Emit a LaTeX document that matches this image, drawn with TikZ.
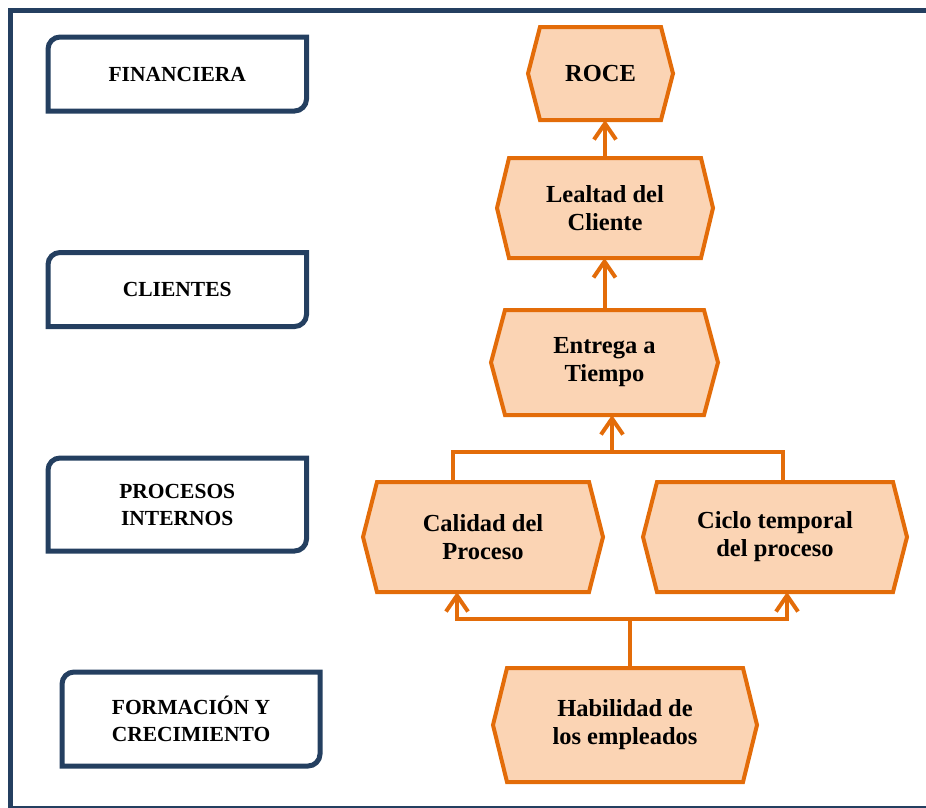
\documentclass[tikz,border=0pt]{standalone}
\usepackage{fontspec}
\setmainfont{Liberation Serif}
\usetikzlibrary{arrows.meta,backgrounds,calc}
\definecolor{naranja}{HTML}{E36C09}
\definecolor{melocoton}{HTML}{FBD4B4}
\definecolor{marino}{HTML}{243F60}

\begin{document}
\begin{tikzpicture}[x=1pt,y=-1pt,
    perspectiva/.style={minimum width=258.5pt, minimum height=74pt, inner sep=0pt, outer sep=0pt,
      align=center, font=\fontsize{21.5}{27}\selectfont\bfseries},
    objetivo/.style={inner sep=0pt, outer sep=0pt, align=center,
      font=\fontsize{24.5}{28}\selectfont\bfseries},
    conector/.style={draw=naranja, line width=4pt},
    flecha/.style={conector, -{Straight Barb[length=16pt,width=22pt]}}]
  \useasboundingbox (0,0) rectangle (926,807);
  \draw[marino, line width=5pt] (10.5,10.5) rectangle (931,808.5);

  \node[perspectiva] (fin) at (177.25,74) {FINANCIERA};
  \node[perspectiva] (cli) at (177.25,289.5) {CLIENTES};
  \node[perspectiva, minimum height=93pt] (proc) at (177.25,504.5) {PROCESOS\\INTERNOS};
  \node[perspectiva, minimum height=94pt, minimum width=258pt] (form) at (191,719) {FORMACIÓN Y\\CRECIMIENTO};
  \foreach \n in {fin,cli,proc,form}
    \draw[marino, line width=5pt] (\n.south west) -- ([yshift=-12pt]\n.north west)
      arc[start angle=180, end angle=90, radius=12pt] -- (\n.north east)
      -- ([yshift=12pt]\n.south east) arc[start angle=0, end angle=-90, radius=12pt] -- cycle;

  \node[objetivo, minimum width=145pt, minimum height=93pt] (roce) at (600.5,73.5) {ROCE};
  \node[objetivo, minimum width=216pt, minimum height=100pt] (lealtad) at (605,208) {Lealtad del\\Cliente};
  \node[objetivo, minimum width=227pt, minimum height=105pt] (entrega) at (604.5,362.5) {Entrega a\\Tiempo};
  \node[objetivo, minimum width=240pt, minimum height=110pt] (calidad) at (483,537) {Calidad del\\Proceso};
  \node[objetivo, minimum width=264pt, minimum height=110pt] (ciclo) at (775,537) {Ciclo temporal\\del proceso};
  \node[objetivo, minimum width=264pt, minimum height=114pt] (habilidad) at (625,725) {Habilidad de\\los empleados};
  \begin{scope}[on background layer]
    \foreach \n/\d in {roce/12,lealtad/12,entrega/14,calidad/14,ciclo/14,habilidad/14}
      \draw[naranja, fill=melocoton, line width=4pt] ([xshift=\d pt]\n.north west)
        -- ([xshift=-\d pt]\n.north east) -- (\n.east) -- ([xshift=-\d pt]\n.south east)
        -- ([xshift=\d pt]\n.south west) -- (\n.west) -- cycle;
  \end{scope}

  \draw[flecha] (lealtad.north) -- (lealtad.north |- roce.south);
  \draw[flecha] (entrega.north) -- (entrega.north |- lealtad.south);
  \coordinate (junta) at (612,452);
  \draw[conector] ([xshift=-30pt]calidad.north) |- (junta) -| ([xshift=8pt]ciclo.north);
  \draw[flecha] (junta) -- (junta |- entrega.south);
  \coordinate (reparto) at (630,619);
  \draw[conector] ([xshift=5pt]habilidad.north) -- (reparto);
  \draw[flecha] (reparto) -| ([xshift=-26pt]calidad.south);
  \draw[flecha] (reparto) -| ([xshift=12pt]ciclo.south);
\end{tikzpicture}
\end{document}
